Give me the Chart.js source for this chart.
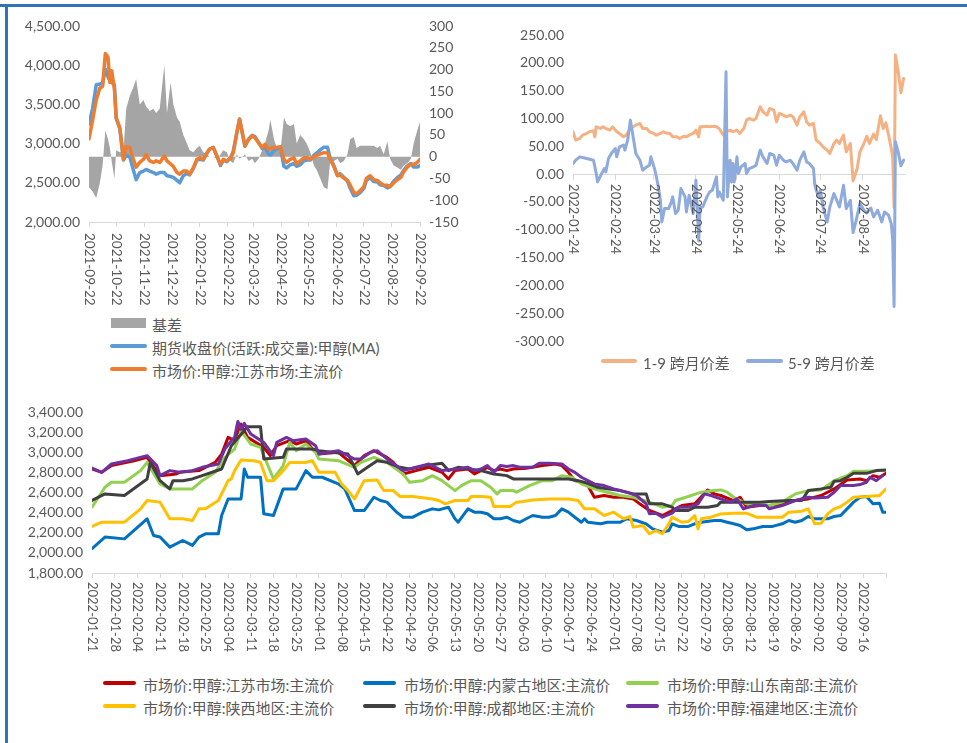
<!DOCTYPE html>
<html lang="zh-CN">
<head>
<meta charset="utf-8">
<title>甲醇基差与价差</title>
<script src="https://cdn.jsdelivr.net/npm/chart.js@4.4.1/dist/chart.umd.min.js"></script>
<style>
  html, body { margin: 0; padding: 0; background: #fff; }
  body { position: relative; width: 967px; height: 743px; overflow: hidden; }
  .frame-top { position: absolute; left: 0; top: 4px; width: 967px; height: 3px; background: #2e75b6; }
  .frame-left { position: absolute; left: 5px; top: 4px; width: 3px; height: 739px; background: #2e75b6; }
  .plot { position: absolute; display: block; }
  .lg-text { position: absolute; height: 18px; line-height: 18px; font: 15px Lato, 'Noto Sans CJK SC', sans-serif; color: #595959; white-space: nowrap; }
  .lg-key { position: absolute; }
</style>
</head>
<body>
<div class="frame-top"></div>
<div class="frame-left"></div>
<canvas id="basisChart" class="plot" width="485" height="310" style="left:0;top:0"></canvas>
<canvas id="spreadChart" class="plot" width="477" height="350" style="left:490px;top:10px"></canvas>
<canvas id="regionChart" class="plot" width="967" height="270" style="left:0;top:395px"></canvas>
<div id="legends"></div>
<script>
(function () {
    'use strict';

    var C = {
        text: '#595959',
        axis: '#d9d9d9',
        gray: '#a5a5a5',
        blue: '#5b9bd5',
        orange: '#ed7d31',
        salmon: '#f4b183',
        steel: '#8faadc',
        red: '#c00000',
        nmBlue: '#0070c0',
        green: '#92d050',
        yellow: '#ffc000',
        dark: '#404040',
        purple: '#7030a0'
    };
    var FONT = 'Lato, "Noto Sans CJK SC", sans-serif';

    // ---- basis chart (days since 2021-09-22) ----
    var basisNames = ['基差', '期货收盘价(活跃:成交量):甲醇(MA)', '市场价:甲醇:江苏市场:主流价'];
    var basisTickDays = [0, 30, 61, 91, 122, 153, 181, 212, 242, 273, 303, 334, 365];
    var basisTickLabels = ['2021-09-22', '2021-10-22', '2021-11-22', '2021-12-22', '2022-01-22', '2022-02-22',
        '2022-03-22', '2022-04-22', '2022-05-22', '2022-06-22', '2022-07-22', '2022-08-22', '2022-09-22'];
    var basisDays = [0, 4, 8, 12, 15, 18, 21, 23, 25, 28, 30, 34, 38, 41, 45, 49, 52, 56, 60, 63, 67, 71, 74, 78, 83,
        86, 90, 93, 97, 100, 104, 108, 111, 115, 119, 122, 126, 130, 133, 137, 141, 145, 148, 152, 156, 159, 163, 166,
        169, 172, 176, 180, 183, 187, 191, 194, 198, 200, 204, 207, 211, 215, 218, 222, 226, 229, 233, 237, 240, 244,
        248, 251, 255, 259, 263, 266, 270, 274, 277, 281, 285, 288, 292, 295, 299, 303, 306, 310, 314, 318, 321, 325,
        329, 332, 336, 340, 344, 347, 351, 355, 358, 362, 365];
    var basisValues = [-70, -80, -95, -60, -20, 60, 40, 20, -10, -50, 15, 10, 10, 110, 140, 160, 178, 120, 130, 115,
        105, 110, 100, 110, 210, 100, 170, 120, 90, 80, 50, 30, 15, 10, 20, 25, 10, 5, 0, 0, -5, 5, 15, 10, -10, -15, 5,
        -5, 0, 5, -10, -5, -15, -5, 15, 30, 60, 85, 40, 20, 10, 90, 75, 70, 75, 30, 50, 40, 30, 10, -20, -30, -50, -70,
        -75, -10, -10, -5, -15, -10, 5, 40, 45, 20, 25, 25, 25, 25, 25, 20, 25, 5, 35, -5, -20, -25, -30, -20, -15, -5,
        30, 60, 80];
    var futuresClose = [3250, 3450, 3750, 3760, 3770, 3950, 3850, 3800, 3780, 3750, 3320, 3190, 2790, 2850, 2830, 2660,
        2540, 2630, 2650, 2670, 2650, 2630, 2610, 2630, 2630, 2590, 2580, 2570, 2530, 2500, 2590, 2620, 2600, 2680, 2790,
        2800, 2790, 2875, 2930, 2950, 2845, 2720, 2785, 2770, 2820, 2895, 3135, 3315, 3140, 2965, 3060, 3105, 3090, 3015,
        2935, 2960, 2865, 2855, 2910, 2930, 2950, 2710, 2690, 2730, 2745, 2710, 2730, 2780, 2790, 2790, 2850, 2880, 2920,
        2955, 2955, 2810, 2720, 2595, 2615, 2570, 2525, 2430, 2335, 2340, 2375, 2425, 2535, 2565, 2515, 2510, 2475, 2465,
        2435, 2455, 2520, 2565, 2600, 2660, 2715, 2745, 2700, 2700, 2720];
    var jiangsuSpot = [3060, 3300, 3560, 3710, 3730, 4150, 4100, 3780, 3930, 3700, 3330, 3200, 2800, 2960, 2950, 2800,
        2700, 2760, 2800, 2860, 2780, 2760, 2780, 2760, 2840, 2780, 2740, 2710, 2630, 2610, 2650, 2650, 2610, 2690, 2800,
        2820, 2800, 2880, 2930, 2950, 2840, 2735, 2800, 2780, 2810, 2880, 3140, 3310, 3140, 2970, 3050, 3100, 3075, 3010,
        2950, 2990, 2930, 2940, 2950, 2950, 2960, 2800, 2760, 2800, 2820, 2740, 2780, 2820, 2820, 2800, 2830, 2850, 2870,
        2885, 2880, 2800, 2710, 2590, 2600, 2560, 2530, 2470, 2380, 2360, 2400, 2450, 2560, 2590, 2540, 2530, 2500, 2470,
        2470, 2450, 2500, 2540, 2570, 2640, 2700, 2740, 2730, 2760, 2800];

    // ---- calendar spread chart (days since 2022-01-24) ----
    var spreadNames = ['1-9 跨月价差', '5-9 跨月价差'];
    var spreadTickDays = [0, 31, 59, 90, 120, 151, 181, 212];
    var spreadTickLabels = ['2022-01-24', '2022-02-24', '2022-03-24', '2022-04-24', '2022-05-24', '2022-06-24',
        '2022-07-24', '2022-08-24'];
    var spread19Days = [0, 2, 5, 7, 10, 12, 15, 16, 17, 20, 22, 24, 27, 29, 32, 34, 37, 39, 42, 44, 46, 49, 51, 54, 56,
        59, 61, 64, 66, 68, 71, 73, 76, 78, 81, 83, 85, 88, 90, 92, 93, 95, 98, 100, 103, 105, 107, 110, 112, 115, 117,
        120, 122, 125, 127, 129, 132, 134, 137, 139, 142, 144, 147, 149, 151, 154, 156, 159, 161, 164, 166, 169, 171,
        173, 176, 178, 181, 183, 186, 188, 191, 193, 195, 198, 200, 203, 205, 208, 210, 213, 215, 217, 220, 222, 225,
        227, 229, 231, 233, 234, 235, 236, 238, 240, 242];
    var spread19 = [76, 61, 64, 70, 73, 76, 78, 67, 85, 82, 85, 82, 79, 85, 76, 73, 67, 70, 82, 85, 88, 91, 82, 82, 76,
        73, 70, 73, 76, 74, 73, 67, 67, 64, 68, 67, 70, 73, 79, 67, 85, 85, 86, 85, 86, 85, 82, 70, 76, 79, 76, 79, 73,
        82, 97, 100, 97, 100, 121, 112, 106, 118, 115, 94, 109, 106, 103, 106, 103, 88, 103, 112, 94, 88, 91, 61, 55, 49,
        43, 37, 55, 61, 55, 70, 40, 55, -12, 10, 40, 55, 68, 55, 72, 62, 105, 82, 92, 70, 45, 30, -60, 214, 185, 146, 172];
    var spread59Days = [0, 2, 5, 10, 15, 17, 18, 21, 23, 24, 26, 28, 31, 32, 34, 37, 38, 40, 42, 44, 46, 49, 51, 54, 56,
        57, 60, 62, 64, 65, 67, 70, 72, 73, 75, 77, 79, 82, 83, 85, 88, 90, 92, 93, 95, 98, 100, 102, 105, 106, 107, 110,
        112, 113, 115, 116, 117, 118, 120, 121, 123, 126, 127, 129, 132, 134, 137, 139, 142, 144, 147, 149, 151, 154,
        156, 159, 161, 164, 166, 169, 171, 173, 176, 177, 178, 180, 181, 183, 186, 188, 191, 193, 195, 198, 200, 203,
        205, 207, 210, 213, 215, 218, 220, 223, 226, 228, 231, 233, 234, 235, 236, 238, 240, 242];
    var spread59 = [19, 25, 31, 28, 25, 1, -14, 1, 10, 4, 28, 37, 46, 31, 49, 52, 43, 61, 97, 67, 37, 25, 7, 13, 16, 31,
        7, -17, -47, -86, -62, -62, -50, -41, -71, -65, -26, -41, -68, -38, -71, -11, -120, -60, -59, -41, -32, -29, -5,
        -41, -32, -47, 184, -41, 25, -14, 19, -14, 31, 1, 13, 19, 1, 10, 13, 16, 43, 31, 19, 37, 34, 16, 34, 25, 22, 25,
        19, 7, 25, 40, 22, 19, 10, -20, -29, -41, -29, -59, -86, -59, -35, -47, -59, -20, -62, -47, -105, -86, -53, -65,
        -70, -61, -77, -65, -86, -68, -74, -90, -118, -238, 58, 40, 15, 25];

    // ---- regional spot prices (days since 2022-01-21) ----
    var regionNames = ['市场价:甲醇:江苏市场:主流价', '市场价:甲醇:内蒙古地区:主流价', '市场价:甲醇:山东南部:主流价',
        '市场价:甲醇:陕西地区:主流价', '市场价:甲醇:成都地区:主流价', '市场价:甲醇:福建地区:主流价'];
    var regionTickLabels = ['2022-01-21', '2022-01-28', '2022-02-04', '2022-02-11', '2022-02-18', '2022-02-25',
        '2022-03-04', '2022-03-11', '2022-03-18', '2022-03-25', '2022-04-01', '2022-04-08', '2022-04-15', '2022-04-22',
        '2022-04-29', '2022-05-06', '2022-05-13', '2022-05-20', '2022-05-27', '2022-06-03', '2022-06-10', '2022-06-17',
        '2022-06-24', '2022-07-01', '2022-07-08', '2022-07-15', '2022-07-22', '2022-07-29', '2022-08-05', '2022-08-12',
        '2022-08-19', '2022-08-26', '2022-09-02', '2022-09-09', '2022-09-16'];
    var jsDays = [0, 3, 6, 13, 17, 21, 26, 27, 33, 38, 40, 42, 44, 46, 48, 53, 55, 57, 61, 63, 66, 68, 70, 76, 81, 84,
        87, 91, 93, 96, 100, 104, 108, 110, 112, 116, 118, 120, 122, 124, 126, 128, 130, 134, 139, 143, 145, 147, 149,
        151, 153, 155, 158, 161, 164, 167, 169, 172, 176, 179, 182, 186, 190, 192, 194, 198, 200, 202, 206, 209, 213,
        217, 221, 225, 229, 233, 237, 239, 241, 243, 245];
    var jsPrice = [2836, 2803, 2870, 2919, 2952, 2770, 2787, 2803, 2820, 2902, 2985, 3151, 3118, 3283, 3151, 3052,
        2969, 3068, 3118, 3085, 3118, 3035, 2985, 3002, 2870, 2969, 3019, 2952, 2902, 2787, 2820, 2853, 2803, 2737, 2820,
        2836, 2787, 2820, 2853, 2820, 2836, 2820, 2836, 2843, 2870, 2886, 2870, 2803, 2720, 2704, 2671, 2555, 2572, 2555,
        2555, 2538, 2489, 2423, 2373, 2423, 2472, 2489, 2627, 2588, 2572, 2522, 2555, 2456, 2472, 2472, 2489, 2522, 2538,
        2572, 2638, 2727, 2737, 2720, 2770, 2754, 2793];
    var nmgDays = [0, 4, 10, 17, 19, 21, 24, 28, 31, 33, 35, 39, 40, 42, 46, 47, 48, 52, 53, 56, 59, 63, 66, 68, 71, 76,
        78, 81, 84, 87, 89, 91, 94, 96, 99, 102, 105, 107, 110, 112, 113, 116, 118, 120, 122, 124, 126, 128, 130, 132,
        134, 136, 139, 141, 143, 145, 147, 149, 151, 152, 153, 157, 159, 163, 165, 168, 171, 173, 176, 178, 179, 181,
        184, 186, 188, 192, 194, 196, 198, 200, 202, 204, 207, 210, 213, 215, 217, 219, 221, 223, 227, 229, 231, 233,
        235, 237, 239, 241, 243, 244, 245];
    var nmgPrice = [2042, 2158, 2140, 2340, 2174, 2158, 2058, 2124, 2075, 2158, 2190, 2190, 2373, 2538, 2538, 2836,
        2754, 2754, 2390, 2373, 2638, 2638, 2820, 2754, 2754, 2688, 2638, 2422, 2422, 2555, 2522, 2506, 2406, 2356, 2356,
        2406, 2439, 2429, 2455, 2340, 2306, 2439, 2406, 2406, 2390, 2340, 2340, 2356, 2323, 2306, 2340, 2373, 2356, 2356,
        2373, 2439, 2406, 2356, 2306, 2340, 2306, 2290, 2306, 2306, 2340, 2323, 2290, 2240, 2207, 2223, 2290, 2264, 2264,
        2290, 2306, 2323, 2323, 2306, 2290, 2273, 2230, 2240, 2264, 2264, 2290, 2323, 2306, 2323, 2363, 2340, 2340, 2363,
        2373, 2439, 2506, 2555, 2562, 2489, 2495, 2406, 2406];
    var sdDays = [0, 2, 4, 6, 10, 15, 17, 21, 24, 31, 34, 38, 41, 44, 46, 49, 52, 56, 59, 61, 63, 66, 69, 70, 76, 81,
        83, 87, 91, 96, 98, 102, 105, 108, 112, 114, 117, 120, 123, 125, 126, 130, 131, 135, 139, 142, 145, 148, 151,
        155, 159, 163, 167, 172, 176, 179, 180, 184, 188, 192, 194, 196, 198, 202, 206, 209, 213, 217, 221, 225, 229,
        233, 235, 239, 243, 245];
    var sdPrice = [2456, 2555, 2654, 2704, 2704, 2820, 2902, 2688, 2638, 2638, 2720, 2803, 2952, 3035, 3217, 3085,
        3052, 2737, 2870, 3101, 3019, 3085, 3002, 2936, 2919, 2853, 2902, 2952, 2902, 2787, 2704, 2720, 2770, 2720, 2621,
        2671, 2720, 2720, 2654, 2588, 2621, 2621, 2605, 2671, 2720, 2720, 2770, 2754, 2688, 2638, 2605, 2572, 2555, 2506,
        2456, 2472, 2522, 2562, 2605, 2621, 2628, 2605, 2555, 2489, 2489, 2472, 2506, 2588, 2621, 2628, 2720, 2770, 2813,
        2813, 2820, 2820];
    var sxDays = [0, 3, 10, 15, 17, 21, 24, 28, 31, 33, 35, 39, 42, 43, 44, 46, 50, 52, 54, 56, 59, 61, 66, 68, 70, 75,
        77, 79, 81, 84, 88, 90, 93, 95, 99, 105, 107, 109, 112, 116, 117, 120, 123, 124, 129, 131, 133, 136, 141, 147,
        150, 152, 155, 158, 161, 164, 166, 167, 170, 172, 174, 176, 178, 179, 182, 184, 186, 187, 188, 191, 194, 198,
        202, 205, 207, 213, 215, 219, 221, 223, 225, 227, 229, 231, 233, 235, 239, 243, 245];
    var sxPrice = [2264, 2306, 2306, 2439, 2522, 2506, 2340, 2340, 2323, 2439, 2439, 2522, 2720, 2737, 2820, 2926,
        2919, 2902, 2720, 2720, 2820, 2902, 2902, 2919, 2803, 2803, 2688, 2621, 2538, 2720, 2727, 2621, 2621, 2562, 2562,
        2538, 2522, 2489, 2522, 2522, 2562, 2562, 2555, 2462, 2462, 2506, 2512, 2528, 2538, 2538, 2522, 2439, 2439, 2373,
        2406, 2340, 2363, 2257, 2273, 2191, 2223, 2191, 2290, 2356, 2306, 2312, 2373, 2240, 2340, 2356, 2389, 2396, 2396,
        2356, 2356, 2356, 2406, 2416, 2439, 2290, 2296, 2389, 2439, 2462, 2506, 2555, 2562, 2572, 2638];
    var cdDays = [0, 4, 10, 17, 18, 21, 24, 25, 28, 31, 34, 40, 43, 48, 52, 53, 59, 60, 68, 70, 79, 82, 85, 88, 91, 95,
        98, 103, 108, 110, 113, 120, 124, 128, 130, 135, 141, 147, 150, 153, 156, 159, 163, 167, 171, 172, 176, 179,
        180, 184, 186, 190, 193, 194, 206, 209, 215, 219, 221, 225, 228, 229, 231, 233, 235, 239, 242, 245];
    var cdPrice = [2522, 2588, 2572, 2737, 2900, 2720, 2638, 2720, 2720, 2737, 2770, 2836, 3068, 3257, 3257, 2936,
        2952, 3035, 3035, 3019, 2985, 2787, 2853, 2919, 2902, 2853, 2836, 2870, 2893, 2820, 2853, 2820, 2787, 2770, 2737,
        2737, 2737, 2737, 2720, 2694, 2654, 2638, 2621, 2588, 2588, 2489, 2489, 2456, 2423, 2423, 2456, 2456, 2472, 2506,
        2506, 2512, 2522, 2522, 2621, 2638, 2654, 2714, 2720, 2754, 2793, 2793, 2820, 2826];
    var fjDays = [0, 3, 6, 11, 17, 20, 21, 24, 27, 31, 34, 39, 41, 43, 44, 45, 46, 47, 49, 53, 56, 57, 60, 62, 66, 69,
        70, 76, 81, 83, 86, 88, 91, 96, 100, 104, 108, 113, 116, 118, 120, 122, 124, 126, 128, 130, 132, 136, 138, 141,
        145, 147, 149, 151, 155, 158, 161, 165, 168, 171, 172, 174, 176, 179, 181, 184, 187, 189, 191, 194, 197, 199,
        201, 204, 208, 209, 213, 217, 221, 223, 227, 229, 231, 235, 237, 239, 240, 242, 244];
    var fjPrice = [2846, 2803, 2886, 2919, 2969, 2870, 2770, 2820, 2803, 2820, 2853, 2886, 3035, 3118, 3151, 3310,
        3230, 3290, 3184, 3101, 2969, 3101, 3151, 3118, 3135, 3068, 2985, 3019, 2936, 2936, 3002, 3019, 2936, 2820, 2853,
        2886, 2820, 2836, 2853, 2820, 2836, 2870, 2803, 2870, 2860, 2870, 2853, 2853, 2893, 2893, 2886, 2836, 2803, 2754,
        2688, 2671, 2638, 2605, 2572, 2489, 2390, 2396, 2356, 2396, 2456, 2456, 2489, 2588, 2572, 2538, 2506, 2538, 2439,
        2472, 2472, 2439, 2472, 2522, 2555, 2548, 2555, 2605, 2671, 2671, 2681, 2704, 2754, 2720, 2770];

    function points(days, values) {
        return days.map(function (d, i) { return { x: d, y: values[i] }; });
    }

    function fixed2(v) {
        return Number(v).toLocaleString('en-US', { minimumFractionDigits: 2, maximumFractionDigits: 2 });
    }

    function lineSet(label, days, values, color, width, order) {
        return {
            label: label,
            data: points(days, values),
            borderColor: color,
            backgroundColor: color,
            borderWidth: width,
            pointRadius: 0,
            tension: 0,
            fill: false,
            borderJoinStyle: 'round',
            borderCapStyle: 'round',
            order: order
        };
    }

    function setTicks(values) {
        return function (scale) {
            scale.ticks = values.map(function (v) { return { value: v }; });
        };
    }

    function xAxis(max, tickDays, height, position) {
        return {
            type: 'linear',
            position: position || 'bottom',
            min: 0,
            max: max,
            afterBuildTicks: setTicks(tickDays),
            afterFit: function (s) { s.height = height; },
            ticks: { display: false },
            grid: { drawOnChartArea: false, drawTicks: true, tickLength: 5, color: C.axis, lineWidth: 1 },
            border: { display: true, color: C.axis, width: 1 }
        };
    }

    function yAxis(position, min, max, step, width, format) {
        return {
            type: 'linear',
            position: position,
            min: min,
            max: max,
            afterFit: function (s) { s.width = width; },
            grid: { display: false, drawTicks: false },
            border: { display: false },
            ticks: {
                stepSize: step,
                autoSkip: false,
                padding: 9,
                color: C.text,
                font: { family: FONT, size: 14 },
                callback: format
            }
        };
    }

    function dateLabels(id, labels, yOf, font) {
        return {
            id: id,
            afterDraw: function (chart) {
                var sx = chart.scales.x;
                var ctx = chart.ctx;
                var y = yOf(chart);
                ctx.save();
                ctx.font = font;
                ctx.fillStyle = C.text;
                ctx.textAlign = 'left';
                ctx.textBaseline = 'middle';
                sx.ticks.forEach(function (t, i) {
                    if (!labels[i]) return;
                    ctx.save();
                    ctx.translate(Math.round(sx.getPixelForValue(t.value)), y);
                    ctx.rotate(Math.PI / 2);
                    ctx.fillText(labels[i], 0, 0);
                    ctx.restore();
                });
                ctx.restore();
            }
        };
    }

    function baseOptions(extra) {
        return Object.assign({
            responsive: false,
            animation: false,
            devicePixelRatio: 1,
            events: [],
            plugins: { legend: { display: false }, tooltip: { enabled: false } }
        }, extra);
    }

    function initBasisChart() {
        new Chart(document.getElementById('basisChart'), {
            type: 'line',
            data: {
                datasets: [
                    {
                        label: basisNames[0],
                        data: points(basisDays, basisValues),
                        yAxisID: 'y2',
                        fill: 'origin',
                        backgroundColor: C.gray,
                        borderColor: C.gray,
                        borderWidth: 0,
                        pointRadius: 0,
                        tension: 0,
                        order: 3
                    },
                    lineSet(basisNames[1], basisDays, futuresClose, C.blue, 3.5, 2),
                    lineSet(basisNames[2], basisDays, jiangsuSpot, C.orange, 3.5, 1)
                ]
            },
            options: baseOptions({
                layout: { padding: { top: 26 } },
                scales: {
                    x: xAxis(365, basisTickDays, 88),
                    y: yAxis('left', 2000, 4500, 500, 89, fixed2),
                    y2: yAxis('right', -150, 300, 50, 65, function (v) { return String(v); })
                }
            }),
            plugins: [dateLabels('basisDates', basisTickLabels, function (c) { return c.scales.x.top + 11; }, '13.5px ' + FONT)]
        });
    }

    function initSpreadChart() {
        new Chart(document.getElementById('spreadChart'), {
            type: 'line',
            data: {
                datasets: [
                    lineSet(spreadNames[0], spread19Days, spread19, C.salmon, 3, 2),
                    lineSet(spreadNames[1], spread59Days, spread59, C.steel, 3, 1)
                ]
            },
            options: baseOptions({
                layout: { padding: { top: 25, right: 62, bottom: 19 } },
                scales: {
                    x: xAxis(243, spreadTickDays, 0, { y: 0 }),
                    y: yAxis('left', -300, 250, 50, 83, fixed2)
                }
            }),
            plugins: [dateLabels('spreadDates', spreadTickLabels, function (c) { return c.scales.y.getPixelForValue(0) + 10; }, '13px ' + FONT)]
        });
    }

    function initRegionChart() {
        var tickDays = regionTickLabels.map(function (_, i) { return i * 7; }).concat([245]);
        var sets = [
            [jsDays, jsPrice, C.red],
            [nmgDays, nmgPrice, C.nmBlue],
            [sdDays, sdPrice, C.green],
            [sxDays, sxPrice, C.yellow],
            [cdDays, cdPrice, C.dark],
            [fjDays, fjPrice, C.purple]
        ];
        new Chart(document.getElementById('regionChart'), {
            type: 'line',
            data: {
                datasets: sets.map(function (s, i) {
                    return lineSet(regionNames[i], s[0], s[1], s[2], 3, sets.length - i);
                })
            },
            options: baseOptions({
                layout: { padding: { top: 17, right: 81 } },
                scales: {
                    x: xAxis(245, tickDays, 92),
                    y: yAxis('left', 1800, 3400, 200, 92, fixed2)
                }
            }),
            plugins: [dateLabels('regionDates', regionTickLabels, function (c) { return c.scales.x.top + 9; }, '13px ' + FONT)]
        });
    }

    function addLegend(text, color, keyLeft, keyWidth, keyHeight, textLeft, centerY) {
        var root = document.getElementById('legends');
        var key = document.createElement('div');
        key.className = 'lg-key';
        key.style.left = keyLeft + 'px';
        key.style.top = (centerY - keyHeight / 2) + 'px';
        key.style.width = keyWidth + 'px';
        key.style.height = keyHeight + 'px';
        key.style.background = color;
        key.style.borderRadius = keyHeight < 6 ? '2px' : '0';
        root.appendChild(key);
        var label = document.createElement('div');
        label.className = 'lg-text';
        label.style.left = textLeft + 'px';
        label.style.top = (centerY - 9) + 'px';
        label.textContent = text;
        root.appendChild(label);
    }

    function initLegends() {
        addLegend(basisNames[0], C.gray, 111, 35, 10, 152, 323);
        addLegend(basisNames[1], C.blue, 110, 37, 4, 152, 346);
        addLegend(basisNames[2], C.orange, 110, 37, 4, 152, 369);

        addLegend(spreadNames[0], C.salmon, 601, 36, 4, 643, 361);
        addLegend(spreadNames[1], C.steel, 746, 37, 4, 788, 361);

        var colors = [C.red, C.nmBlue, C.green, C.yellow, C.dark, C.purple];
        var keyX = [103, 363, 626];
        var textX = [143, 404, 667];
        var rowY = [683, 706];
        regionNames.forEach(function (name, i) {
            var col = i % 3;
            var row = Math.floor(i / 3);
            addLegend(name, colors[i], keyX[col], 33, 4, textX[col], rowY[row]);
        });
    }

    function init() {
        initBasisChart();
        initSpreadChart();
        initRegionChart();
        initLegends();
    }

    if (document.readyState === 'loading') {
        document.addEventListener('DOMContentLoaded', init);
    } else {
        init();
    }
})();
</script>
</body>
</html>
